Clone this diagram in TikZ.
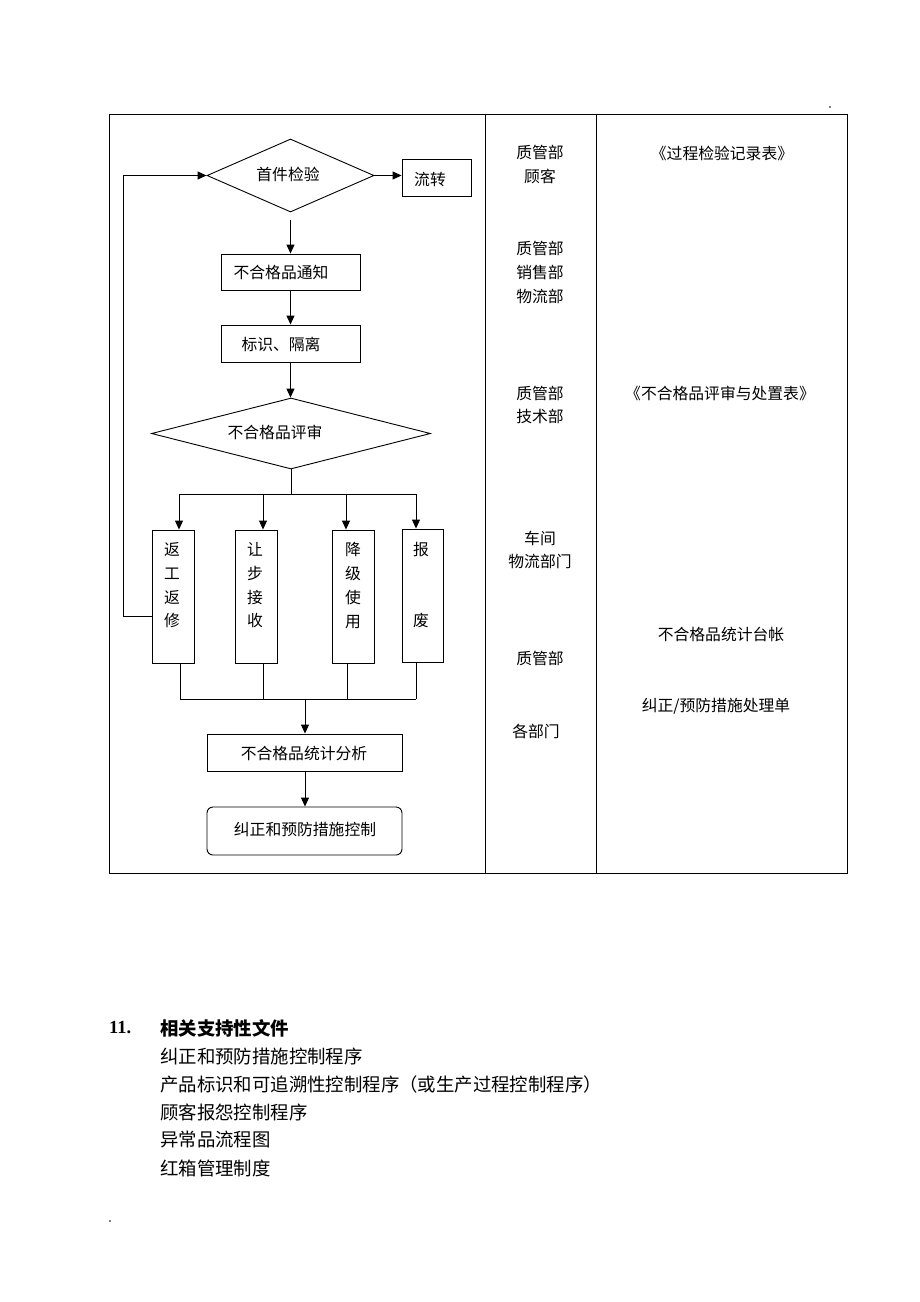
\documentclass[tikz,border=0pt]{standalone}
\usepackage{fontspec}
\setmainfont{Liberation Serif}
\newfontfamily\cjk{Noto Sans CJK SC}
\usetikzlibrary{arrows.meta,shapes.geometric}
\begin{document}
\begin{tikzpicture}[x=1pt,y=-1pt,
  box/.style={draw, line width=0.9pt, inner sep=0pt},
  dia/.style={draw, diamond, line width=0.9pt, inner sep=0pt},
  txt/.style={font=\cjk\fontsize{15.8}{23.7}\selectfont, inner sep=0pt, align=center},
  doc/.style={font=\cjk\fontsize{18.4}{18.4}\selectfont, inner sep=0pt, anchor=west},
  arr/.style={-{Triangle[length=9pt,width=8pt]}, line width=1pt},
  ln/.style={line width=0.9pt},
  frame/.style={line width=1pt}]
\useasboundingbox (0,0) rectangle (920,1302);
% table frame
\draw[frame] (109,114) -- (847,114);
\draw[frame] (109,114) -- (109,873) -- (847,873) -- (847,114);
\draw[frame] (485,114) -- (485,873);
\draw[frame] (596,114) -- (596,873);
\fill (830,107) circle (0.8);
\fill (110,1221) circle (0.8);
% flowchart nodes
\node[dia, minimum width=167pt, minimum height=73pt] (d1) at (290.5,175.5) {};
\node[txt] (t1) at (288,174) {首件检验};
\node[box, minimum width=69pt, minimum height=37pt] (liu) at (436.5,177.5) {};
\node[txt] (tliu) at (430,179) {流转};
\node[box, minimum width=139pt, minimum height=36pt] (n1) at (290.5,272) {};
\node[txt] (tn1) at (281,272) {不合格品通知};
\node[box, minimum width=139pt, minimum height=37pt] (n2) at (290.5,343.5) {};
\node[txt] (tn2) at (281,344) {标识、隔离};
\node[dia, minimum width=279pt, minimum height=71pt] (d2) at (291,433.5) {};
\node[txt] (t2) at (275,432) {不合格品评审};
\node[box, minimum width=42pt, minimum height=133pt] (r1) at (173,596.5) {};
\node[box, minimum width=42pt, minimum height=133pt] (r2) at (256,596.5) {};
\node[box, minimum width=42pt, minimum height=133pt] (r3) at (353,596.5) {};
\node[box, minimum width=41pt, minimum height=133pt] (r4) at (422.5,595.5) {};
\node[txt] (tr1) at (172,585.5) {返\\工\\返\\修};
\node[txt] (tr2) at (255,585.5) {让\\步\\接\\收};
\node[txt] (tr3) at (353,585.5) {降\\级\\使\\用};
\node[txt] (tr4a) at (421,550) {报};
\node[txt] (tr4b) at (421,621) {废};
\node[box, minimum width=195pt, minimum height=37pt] (s1) at (304.5,752.5) {};
\node[txt] (ts1) at (304,753) {不合格品统计分析};
\node[box, rounded corners=6pt, minimum width=195pt, minimum height=48pt] (s2) at (304.5,831) {};
\node[txt] (ts2) at (305,829) {纠正和预防措施控制};
% connectors
\draw[arr] (d1.east) -- (d1.east -| liu.west);
\draw[arr] ([yshift=-8pt]d1.south) -- (d1.south |- n1.north);
\draw[arr] (n1.south) -- (n2.north);
\draw[arr] (n2.south) -- (n2.south |- d2.north);
\coordinate (br) at (291,494);
\coordinate (b1) at (179,494);
\coordinate (b2) at (263,494);
\coordinate (b3) at (346,494);
\coordinate (b4) at (416,494);
\draw[ln] (d2.south) -- (br);
\draw[ln] (b1) -- (b4);
\draw[arr] (b1) -- (b1 |- r1.north);
\draw[arr] (b2) -- (b2 |- r2.north);
\draw[arr] (b3) -- (b3 |- r3.north);
\draw[arr] (b4) -- (b4 |- r4.north);
\coordinate (c1) at (180,699);
\coordinate (c2) at (263,699);
\coordinate (c3) at (347,699);
\coordinate (c4) at (416,699);
\coordinate (m) at (305,699);
\draw[ln] (c1 |- r1.south) -- (c1);
\draw[ln] (c2 |- r2.south) -- (c2);
\draw[ln] (c3 |- r3.south) -- (c3);
\draw[ln] (c4 |- r4.south) -- (c4);
\draw[ln] (c1) -- (c4);
\draw[arr] (m) -- (m |- s1.north);
\draw[arr] (s1.south -| m) -- (m |- s2.north);
\coordinate (fbA) at (123,616);
\coordinate (fbB) at (123,175.5);
\draw[arr] (r1.west |- fbA) -- (fbA) -- (fbB) -- (d1.west);
% responsible departments
\node[txt] (p1) at (540,164.5) {质管部\\顾客};
\node[txt] (p2) at (540,272.5) {质管部\\销售部\\物流部};
\node[txt] (p3) at (540,405) {质管部\\技术部};
\node[txt] (p4) at (540,550) {车间\\物流部门};
\node[txt] (p5) at (540,658) {质管部};
\node[txt] (p6) at (536,731) {各部门};
% records
\node[txt] (q1) at (722,153) {《过程检验记录表》};
\node[txt] (q2) at (720,393) {《不合格品评审与处置表》};
\node[txt] (q3) at (721,634) {不合格品统计台帐};
\node[txt] (q4) at (716,706) {纠正/预防措施处理单};
% section 11
\node[font=\bfseries\fontsize{18.4}{18.4}\selectfont, inner sep=0pt, anchor=west] (h11) at (109,1028) {11.};
\node[doc, font=\cjk\bfseries\fontsize{18.4}{18.4}\selectfont] (h) at (160,1028) {相关支持性文件};
\node[doc] (f1) at (160,1056) {纠正和预防措施控制程序};
\node[doc] (f2) at (160,1084) {产品标识和可追溯性控制程序（或生产过程控制程序）};
\node[doc] (f3) at (160,1112) {顾客报怨控制程序};
\node[doc] (f4) at (160,1140) {异常品流程图};
\node[doc] (f5) at (160,1168) {红箱管理制度};
\end{tikzpicture}
\end{document}
